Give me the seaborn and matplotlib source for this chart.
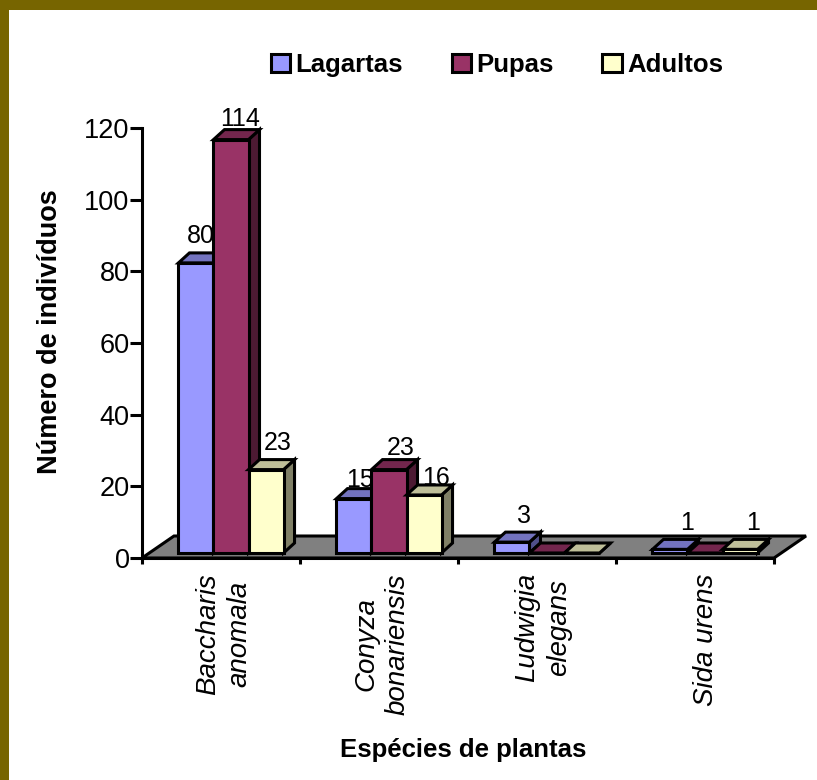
import matplotlib
matplotlib.use("Agg")
import matplotlib.pyplot as plt
import pandas as pd
import seaborn as sns
from matplotlib.patches import Polygon, Rectangle
from matplotlib.transforms import Affine2D, IdentityTransform

# Counts per plant species and life stage
species = ["Baccharis\nanomala", "Conyza\nbonariensis", "Ludwigia\nelegans", "Sida urens"]
stages = ["Lagartas", "Pupas", "Adultos"]
lagartas = [80, 15, 3, 1]
pupas = [114, 23, 0, 0]
adultos = [23, 16, 0, 1]
y_ticks = [0, 20, 40, 60, 80, 100, 120]

front_colors = ["#9999FF", "#993366", "#FFFFCC"]
top_colors = ["#7373BF", "#73264D", "#BFBF99"]
side_colors = ["#50508A", "#4D1A33", "#808066"]
floor_color = "#808080"
border_color = "#776500"

W, H = 817, 780
BAR_SHIFT = (10, 5)     # front face relative to the axis plane, px
BAR_DEPTH = (11, 10)    # receding edge of each bar, px
BAR_STRETCH = 1.012     # bars stand nearer the viewer than the axis plane
FLOOR_DEPTH = (32, 22)  # receding edge of the floor, px
EDGE = 2.2

# Small per-label nudges (px) keeping value labels clear of neighbouring bars
label_nudge = {
    (0, 0): (-4, 4), (0, 1): (0, 0), (0, 2): (3, 2),
    (1, 0): (-3, -7), (1, 1): (3, -3), (1, 2): (3, -8),
    (2, 0): (3, 0), (3, 0): (8, 0), (3, 2): (4, 0),
}
# Horizontal placement of the species labels relative to their category, px
species_offset = [3, 3, 6, 11]

df = pd.DataFrame({
    "especie": species * 3,
    "fase": [s for s in stages for _ in species],
    "n": lagartas + pupas + adultos,
})

sns.set_theme(style="white")
plt.rcParams["font.family"] = ["Liberation Sans", "DejaVu Sans"]

fig = plt.figure(figsize=(W / 100, H / 100), dpi=100, facecolor="white")
ax = fig.add_axes([142 / W, 1 - 558 / H, (774 - 142) / W, (558 - 128) / H])
ax.patch.set_alpha(0)

sns.barplot(data=df, x="especie", y="n", hue="fase", order=species, hue_order=stages,
            palette=front_colors, saturation=1, width=0.665, gap=0, errorbar=None,
            edgecolor="black", linewidth=EDGE, ax=ax)
ax.set_xlim(-0.5, 3.5)
ax.set_ylim(0, 120)


def face(points, color, z):
    ax.add_patch(Polygon(points, closed=True, facecolor=color, edgecolor="black",
                         linewidth=EDGE, transform=IdentityTransform(),
                         clip_on=False, zorder=z, joinstyle="miter"))


fig.canvas.draw()

# Floor of the plot box
x0, y0 = ax.transData.transform((-0.5, 0))
x1, _ = ax.transData.transform((3.5, 0))
fdx, fdy = FLOOR_DEPTH
face([(x0, y0), (x0 + fdx, y0 + fdy), (x1 + fdx, y0 + fdy), (x1, y0)], floor_color, 1)

# Extrude each bar: side and top faces, then the shifted front face above them
place = (Affine2D().translate(0, -y0).scale(1, BAR_STRETCH).translate(0, y0)
         .translate(*BAR_SHIFT))
bar_transform = ax.transData + place
dx, dy = BAR_DEPTH
for cat in range(len(species)):
    for h, container in enumerate(ax.containers):
        bar = container[cat]
        z = 3 + cat * 10 + h * 3
        left, base = bar_transform.transform((bar.get_x(), 0))
        right, top = bar_transform.transform((bar.get_x() + bar.get_width(), bar.get_height()))
        face([(right, base), (right + dx, base + dy), (right + dx, top + dy), (right, top)],
             side_colors[h], z)
        face([(left, top), (left + dx, top + dy), (right + dx, top + dy), (right, top)],
             top_colors[h], z + 1)
        bar.set_transform(bar_transform)
        bar.set_clip_on(False)
        bar.set_zorder(z + 2)
        bar.set_joinstyle("miter")
        if bar.get_height() > 0:
            nx, ny = label_nudge.get((cat, h), (0, 0))
            ax.annotate(f"{bar.get_height():.0f}",
                        (bar.get_x() + bar.get_width() / 2, bar.get_height()),
                        xytext=(BAR_SHIFT[0] + 9 + nx, BAR_SHIFT[1] + dy + 4 + ny),
                        textcoords="offset pixels", ha="center", va="bottom",
                        fontsize=18, color="black", zorder=100, annotation_clip=False)

# Axes, ticks and labels
sns.despine(ax=ax)
for side in ("left", "bottom"):
    ax.spines[side].set_linewidth(EDGE)
    ax.spines[side].set_color("black")
    ax.spines[side].set_zorder(2)
ax.set_yticks(y_ticks)
ax.tick_params(axis="y", length=9, width=EDGE, color="black", labelsize=19.5, pad=0,
               labelcolor="black", left=True)
ax.set_xticks(range(len(species)), species)
ax.tick_params(axis="x", which="major", length=0, pad=11, labelsize=20, labelcolor="black")
for lab, off in zip(ax.get_xticklabels(), species_offset):
    lab.set_rotation(90)
    lab.set_style("italic")
    lab.set_ha("center")
    lab.set_va("top")
    lab.set_multialignment("center")
    lab.set_linespacing(1.28)
    lab.set_transform(lab.get_transform() + Affine2D().translate(off, 0))
ax.set_xticks([i - 0.5 for i in range(len(species) + 1)], minor=True)
ax.tick_params(axis="x", which="minor", length=4, width=EDGE, color="black", bottom=True)

ax.set_xlabel("Espécies de plantas", fontsize=18.5, fontweight="bold", color="black")
ax.xaxis.set_label_coords(463 / W, 1 - 750 / H, transform=fig.transFigure)
ax.xaxis.label.set_va("center")
ax.set_ylabel("Número de indivíduos", fontsize=19.5, fontweight="bold", color="black")
ax.yaxis.set_label_coords(50 / W, 1 - 332 / H, transform=fig.transFigure)
ax.yaxis.label.set_va("center")

handles, labels = ax.get_legend_handles_labels()
ax.legend(handles, labels, ncol=3, frameon=False, loc="center",
          bbox_to_anchor=(497 / W, 1 - 65 / H), bbox_transform=fig.transFigure,
          prop={"size": 18.5, "weight": "bold"}, handlelength=0.75, handleheight=0.75,
          handletextpad=0.2, columnspacing=1.9, labelcolor="black")

# Frame strips along the top and left edges
fig.add_artist(Rectangle((0, 1 - 10 / H), 1, 10 / H, transform=fig.transFigure,
                         facecolor=border_color, edgecolor="none"))
fig.add_artist(Rectangle((0, 0), 9 / W, 1, transform=fig.transFigure,
                         facecolor=border_color, edgecolor="none"))

fig.savefig("out.png", dpi=100)
